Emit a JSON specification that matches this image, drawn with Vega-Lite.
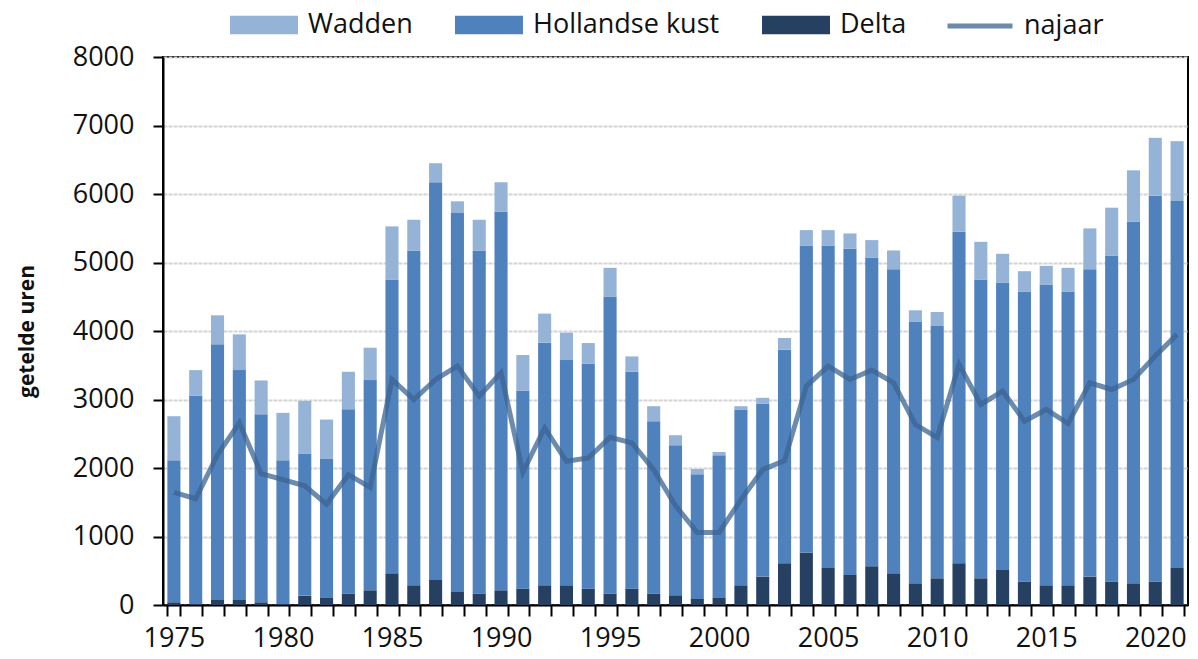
{
  "$schema": "https://vega.github.io/schema/vega-lite/v6.json",
  "width": 1025,
  "height": 548,
  "autosize": {"type": "none"},
  "padding": {"left": 163, "top": 57, "right": 10, "bottom": 54},
  "background": "white",
  "config": {
    "font": "Open Sans",
    "view": {"stroke": "black", "strokeWidth": 2},
    "axis": {"labelFont": "Open Sans", "labelFontSize": 27, "labelColor": "#111", "domainColor": "black", "domainWidth": 2, "tickColor": "black", "tickWidth": 2},
    "legend": {"labelFont": "Open Sans", "labelFontSize": 27, "labelColor": "#111", "labelLimit": 0}
  },
  "data": {"values": [
    {"jaar": 1975, "Delta": 40, "Hollandse kust": 2072, "Wadden": 644, "najaar": 1644},
    {"jaar": 1976, "Delta": 15, "Hollandse kust": 3044, "Wadden": 370, "najaar": 1551},
    {"jaar": 1977, "Delta": 73, "Hollandse kust": 3732, "Wadden": 424, "najaar": 2195},
    {"jaar": 1978, "Delta": 73, "Hollandse kust": 3356, "Wadden": 522, "najaar": 2659},
    {"jaar": 1979, "Delta": 40, "Hollandse kust": 2745, "Wadden": 493, "najaar": 1917},
    {"jaar": 1980, "Delta": 15, "Hollandse kust": 2097, "Wadden": 693, "najaar": 1829},
    {"jaar": 1981, "Delta": 137, "Hollandse kust": 2073, "Wadden": 770, "najaar": 1741},
    {"jaar": 1982, "Delta": 112, "Hollandse kust": 2020, "Wadden": 575, "najaar": 1473},
    {"jaar": 1983, "Delta": 166, "Hollandse kust": 2693, "Wadden": 546, "najaar": 1902},
    {"jaar": 1984, "Delta": 215, "Hollandse kust": 3068, "Wadden": 473, "najaar": 1717},
    {"jaar": 1985, "Delta": 463, "Hollandse kust": 4288, "Wadden": 776, "najaar": 3293},
    {"jaar": 1986, "Delta": 288, "Hollandse kust": 4888, "Wadden": 448, "najaar": 3000},
    {"jaar": 1987, "Delta": 366, "Hollandse kust": 5805, "Wadden": 278, "najaar": 3293},
    {"jaar": 1988, "Delta": 190, "Hollandse kust": 5532, "Wadden": 171, "najaar": 3488},
    {"jaar": 1989, "Delta": 166, "Hollandse kust": 5010, "Wadden": 448, "najaar": 3049},
    {"jaar": 1990, "Delta": 215, "Hollandse kust": 5531, "Wadden": 425, "najaar": 3390},
    {"jaar": 1991, "Delta": 239, "Hollandse kust": 2893, "Wadden": 517, "najaar": 1937},
    {"jaar": 1992, "Delta": 288, "Hollandse kust": 3541, "Wadden": 425, "najaar": 2585},
    {"jaar": 1993, "Delta": 288, "Hollandse kust": 3288, "Wadden": 400, "najaar": 2098},
    {"jaar": 1994, "Delta": 239, "Hollandse kust": 3288, "Wadden": 297, "najaar": 2146},
    {"jaar": 1995, "Delta": 166, "Hollandse kust": 4336, "Wadden": 420, "najaar": 2449},
    {"jaar": 1996, "Delta": 239, "Hollandse kust": 3166, "Wadden": 224, "najaar": 2366},
    {"jaar": 1997, "Delta": 166, "Hollandse kust": 2517, "Wadden": 219, "najaar": 1976},
    {"jaar": 1998, "Delta": 141, "Hollandse kust": 2191, "Wadden": 146, "najaar": 1450},
    {"jaar": 1999, "Delta": 88, "Hollandse kust": 1819, "Wadden": 78, "najaar": 1059},
    {"jaar": 2000, "Delta": 112, "Hollandse kust": 2073, "Wadden": 49, "najaar": 1059},
    {"jaar": 2001, "Delta": 288, "Hollandse kust": 2566, "Wadden": 48, "najaar": 1537},
    {"jaar": 2002, "Delta": 415, "Hollandse kust": 2522, "Wadden": 87, "najaar": 1976},
    {"jaar": 2003, "Delta": 610, "Hollandse kust": 3117, "Wadden": 171, "najaar": 2107},
    {"jaar": 2004, "Delta": 766, "Hollandse kust": 4483, "Wadden": 224, "najaar": 3195},
    {"jaar": 2005, "Delta": 541, "Hollandse kust": 4708, "Wadden": 224, "najaar": 3488},
    {"jaar": 2006, "Delta": 439, "Hollandse kust": 4761, "Wadden": 224, "najaar": 3293},
    {"jaar": 2007, "Delta": 566, "Hollandse kust": 4507, "Wadden": 254, "najaar": 3429},
    {"jaar": 2008, "Delta": 463, "Hollandse kust": 4439, "Wadden": 274, "najaar": 3244},
    {"jaar": 2009, "Delta": 317, "Hollandse kust": 3815, "Wadden": 170, "najaar": 2634},
    {"jaar": 2010, "Delta": 390, "Hollandse kust": 3683, "Wadden": 205, "najaar": 2446},
    {"jaar": 2011, "Delta": 610, "Hollandse kust": 4839, "Wadden": 527, "najaar": 3512},
    {"jaar": 2012, "Delta": 390, "Hollandse kust": 4361, "Wadden": 551, "najaar": 2927},
    {"jaar": 2013, "Delta": 512, "Hollandse kust": 4195, "Wadden": 420, "najaar": 3122},
    {"jaar": 2014, "Delta": 341, "Hollandse kust": 4235, "Wadden": 297, "najaar": 2683},
    {"jaar": 2015, "Delta": 288, "Hollandse kust": 4390, "Wadden": 273, "najaar": 2854},
    {"jaar": 2016, "Delta": 288, "Hollandse kust": 4288, "Wadden": 346, "najaar": 2649},
    {"jaar": 2017, "Delta": 415, "Hollandse kust": 4487, "Wadden": 596, "najaar": 3244},
    {"jaar": 2018, "Delta": 341, "Hollandse kust": 4761, "Wadden": 698, "najaar": 3146},
    {"jaar": 2019, "Delta": 317, "Hollandse kust": 5283, "Wadden": 746, "najaar": 3293},
    {"jaar": 2020, "Delta": 341, "Hollandse kust": 5635, "Wadden": 844, "najaar": 3634},
    {"jaar": 2021, "Delta": 541, "Hollandse kust": 5357, "Wadden": 873, "najaar": 3951}
  ]},
  "encoding": {
    "x": {
      "field": "jaar", "type": "ordinal", "title": null,
      "scale": {"paddingInner": 0.4, "paddingOuter": 0.2},
      "axis": {
        "labelAngle": 0, "tickBand": "extent", "tickSize": 11, "labelPadding": 9,
        "labelOverlap": false,
        "labelExpr": "datum.value % 5 === 0 ? datum.label : ''",
        "grid": false
      }
    }
  },
  "layer": [
    {
      "transform": [{"fold": ["Delta", "Hollandse kust", "Wadden"], "as": ["gebied", "uren"]}],
      "mark": {"type": "bar"},
      "encoding": {
        "y": {
          "field": "uren", "type": "quantitative", "stack": "zero",
          "scale": {"domain": [0, 8000], "nice": false},
          "title": "getelde uren",
          "axis": {
            "values": [0, 1000, 2000, 3000, 4000, 5000, 6000, 7000, 8000],
            "format": "d",
            "tickSize": 10, "labelPadding": 19,
            "titleFont": "Open Sans", "titleFontSize": 21, "titleFontWeight": "bold", "titleColor": "#111", "titlePadding": 35,
            "grid": true, "gridColor": "#d4d4d4", "gridWidth": 2, "gridDash": [4, 1]
          }
        },
        "fill": {
          "field": "gebied", "type": "nominal",
          "scale": {"domain": ["Wadden", "Hollandse kust", "Delta"], "range": ["#95B3D7", "#4F81BD", "#254061"]},
          "legend": {
            "title": null, "orient": "none", "direction": "horizontal",
            "legendX": 67, "legendY": -66,
            "symbolType": "M-1,-0.27H1V0.27H-1Z", "symbolSize": 4624, "symbolStrokeWidth": 0, "symbolOpacity": 1,
            "labelOffset": 10, "columnPadding": 42
          }
        },
        "order": {"field": "gebied", "type": "nominal", "sort": "ascending"}
      }
    },
    {
      "mark": {"type": "line", "strokeWidth": 5, "opacity": 0.75},
      "encoding": {
        "y": {"field": "najaar", "type": "quantitative"},
        "stroke": {
          "datum": "najaar", "type": "nominal",
          "scale": {"domain": ["najaar"], "range": ["#3b6491"]},
          "legend": {
            "title": null, "orient": "none", "direction": "horizontal",
            "legendX": 782, "legendY": -66,
            "symbolType": "stroke", "symbolSize": 4225, "symbolStrokeWidth": 5, "symbolOpacity": 0.75,
            "labelOffset": 9
          }
        }
      }
    }
  ]
}
